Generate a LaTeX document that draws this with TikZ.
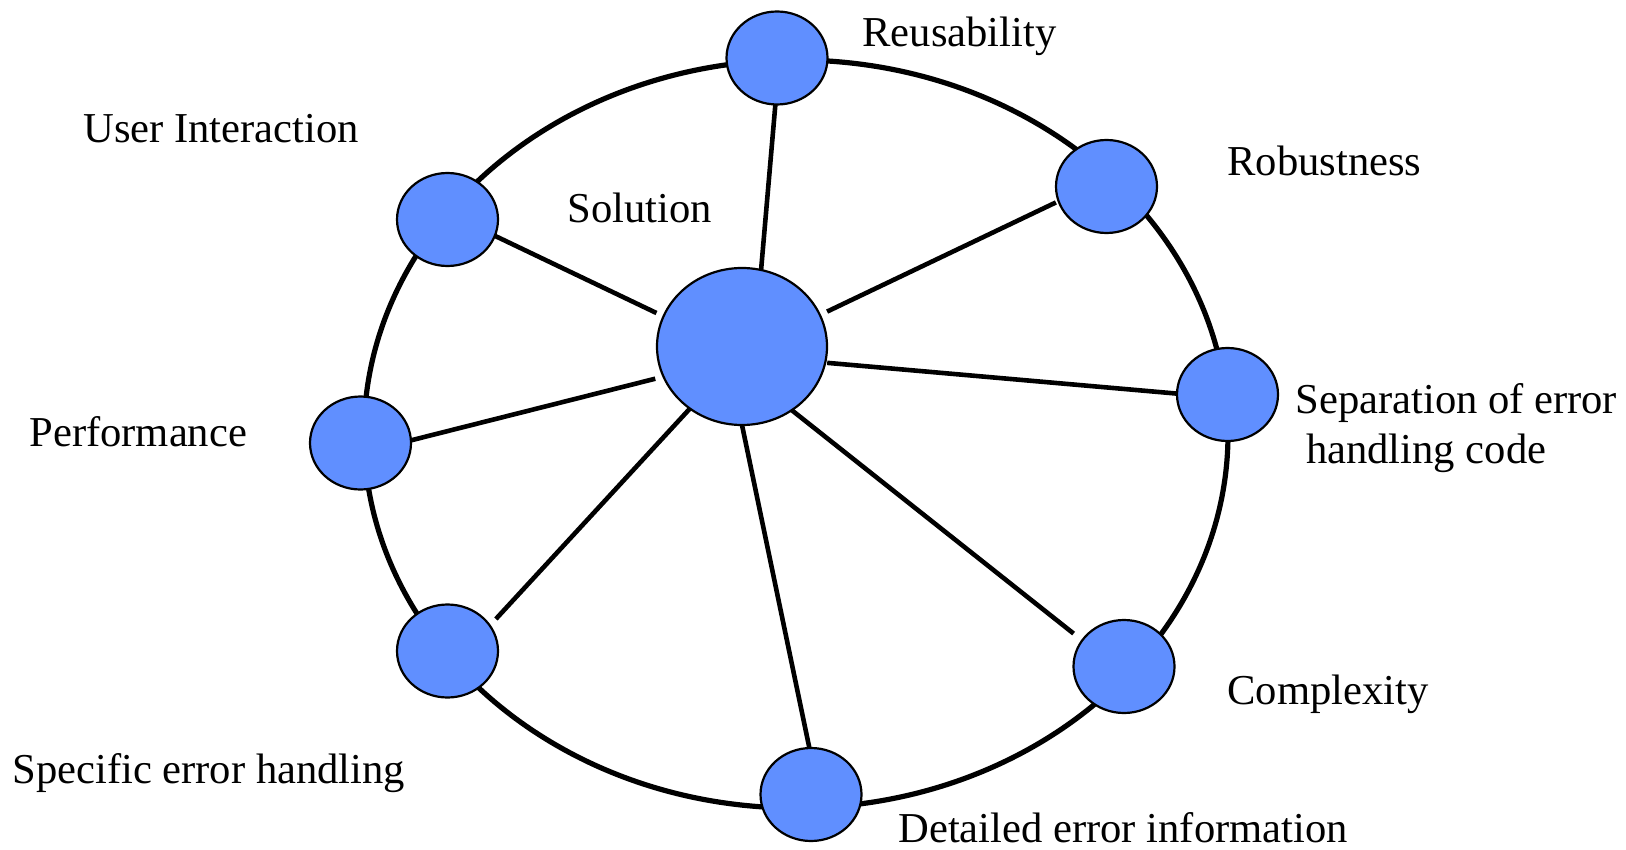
\documentclass[tikz,border=0pt]{standalone}
\usepackage{fontspec}
\setmainfont{Liberation Serif}
\usetikzlibrary{shapes.geometric,backgrounds}
\definecolor{nodeblue}{RGB}{96,143,255}
\tikzset{
  bub/.style={ellipse, draw=black, line width=1.1pt, fill=nodeblue,
    inner sep=0pt, outer sep=0pt, minimum width=50.5pt, minimum height=46.5pt},
  hub/.style={bub, minimum width=85pt, minimum height=78.5pt},
  spoke/.style={draw=black, line width=2.3pt},
  ring/.style={draw=black, line width=2.6pt},
  lbl/.style={anchor=base west, inner sep=0pt, align=left,
    font=\fontsize{21.3pt}{25pt}\selectfont}
}
\begin{document}
\begin{tikzpicture}[x=0.5pt, y=-0.5pt]
\useasboundingbox (0,0) rectangle (1626,850);

% hub and the eight quality nodes
\node[hub] (C) at (742,346.5) {};
\node[bub] (R) at (777,58) {};
\node[bub] (B) at (1106.5,186.5) {};
\node[bub] (S) at (1227.5,394.5) {};
\node[bub] (K) at (1124,666.5) {};
\node[bub] (D) at (811,794.5) {};
\node[bub] (P) at (447.5,651) {};
\node[bub] (F) at (360.5,443) {};
\node[bub] (U) at (447.5,219.5) {};

% outer ring and spokes behind the nodes
\begin{scope}[on background layer]
  \draw[ring] (796,434) ellipse [x radius=432, y radius=374];
  \draw[spoke] (C.76.4) -- (R.268.8);
  \draw[spoke, shorten <=4pt, shorten >=1.5pt] (C.22.4) -- (B.197.8);
  \draw[spoke, shorten <=1pt] (C.349.7) -- (S.179.4);
  \draw[spoke, shorten >=5.5pt] (C.308.8) -- (K.148.8);
  \draw[spoke] (C.270.7) -- (D.92.4);
  \draw[spoke, shorten >=4.5pt] (C.230.7) -- (P.31.5);
  \draw[spoke, shorten <=4.25pt] (C.201.6) -- (F.3.3);
  \draw[spoke, shorten <=3.9pt] (C.159.5) -- (U.341.2);
\end{scope}

% labels (base anchor of the two-line label is its last line)
\node[lbl] (tR) at (862,47) {Reusability};
\node[lbl] (tU) at (83,143) {User Interaction};
\node[lbl] (tC) at (567,223) {Solution};
\node[lbl] (tB) at (1227,176) {Robustness};
\node[lbl] (tS) at (1295,463) {Separation of error\\\hspace*{0.25em}handling code};
\node[lbl] (tF) at (29,446) {Performance};
\node[lbl] (tK) at (1227,704) {Complexity};
\node[lbl] (tP) at (12,783) {Specific error handling};
\node[lbl] (tD) at (898,842) {Detailed error information};
\end{tikzpicture}
\end{document}
